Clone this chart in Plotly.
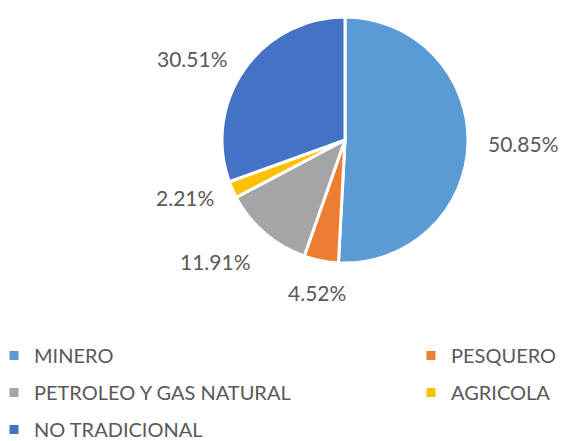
import math
import plotly.graph_objects as go

categories = ["MINERO", "PESQUERO", "PETROLEO Y GAS NATURAL", "AGRICOLA", "NO TRADICIONAL"]
values = [50.85, 4.52, 11.91, 2.21, 30.51]
colors = ["#5B9BD5", "#ED7D31", "#A5A5A5", "#FFC000", "#4472C4"]
legend_left = ["MINERO", "PETROLEO Y GAS NATURAL", "NO TRADICIONAL"]
legend_right = ["PESQUERO", "AGRICOLA"]

OFF = 8  # page body margin offset
W, H = 566, 441
cx, cy, r = 345 - OFF, 140 - OFF, 123
label_r = 142
text_color = "#595959"

fig = go.Figure()
fig.add_trace(go.Pie(
    labels=categories, values=values, sort=False, direction="clockwise", rotation=0,
    marker=dict(colors=colors, line=dict(color="white", width=3)),
    textinfo="none", showlegend=False, hoverinfo="label+value",
    domain=dict(x=[(cx - r) / W, (cx + r) / W], y=[(H - cy - r) / H, (H - cy + r) / H]),
))

# data labels placed along each slice's mid-angle
total = sum(values)
cum = 0.0
for v in values:
    mid = (cum + v / 2) / total * 2 * math.pi
    cum += v
    s, c = math.sin(mid), math.cos(mid)
    px = cx + label_r * s
    py = cy - label_r * c
    xa = "left" if s > 0.3 else ("right" if s < -0.3 else "center")
    ya = "bottom" if c > 0.7 else ("top" if c < -0.7 else "middle")
    fig.add_annotation(x=px / W, y=(H - py) / H, xref="paper", yref="paper",
                       text=f"{v:.2f}%", showarrow=False, xanchor=xa, yanchor=ya,
                       borderpad=0,
                       font=dict(family="Lato", size=21, color=text_color))

cmap = dict(zip(categories, colors))
for i, name in enumerate(legend_left):
    fig.add_trace(go.Scatter(x=[None], y=[None], mode="markers", name=name,
                             marker=dict(symbol="square", size=9, color=cmap[name]),
                             legend="legend", legendgroup=f"l{i}"))
for i, name in enumerate(legend_right):
    fig.add_trace(go.Scatter(x=[None], y=[None], mode="markers", name=name,
                             marker=dict(symbol="square", size=9, color=cmap[name]),
                             legend="legend2", legendgroup=f"r{i}"))

legend_style = dict(font=dict(family="Lato", size=20, color=text_color),
                    bgcolor="rgba(0,0,0,0)", tracegroupgap=8, traceorder="grouped",
                    yanchor="top", xanchor="left", itemwidth=30)
fig.update_layout(
    width=W, height=H, margin=dict(l=0, r=0, t=0, b=0, autoexpand=False),
    paper_bgcolor="white", plot_bgcolor="white",
    xaxis=dict(visible=False), yaxis=dict(visible=False),
    legend=dict(x=-14 / W, y=(H - 328) / H, **legend_style),
    legend2=dict(x=403 / W, y=(H - 328) / H, **legend_style),
)
fig.write_html("out.html")
